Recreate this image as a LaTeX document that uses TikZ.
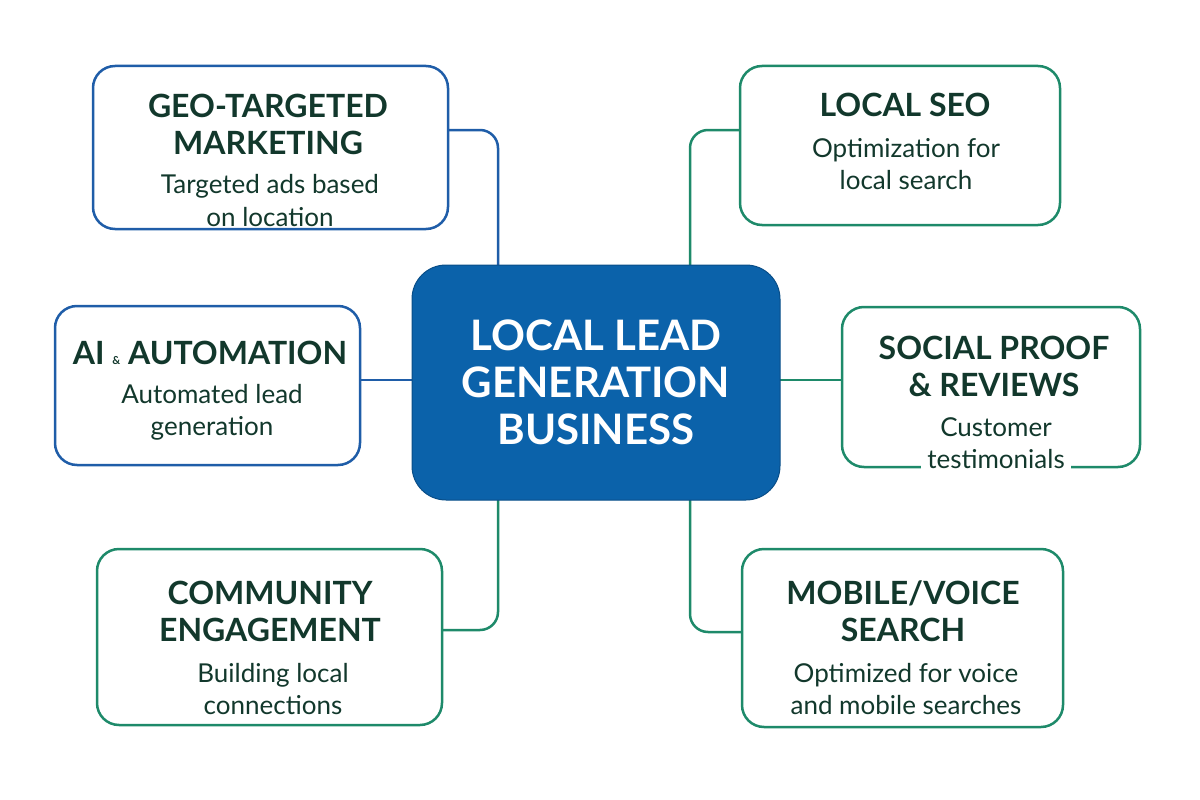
\documentclass[tikz,border=0pt]{standalone}
\usepackage{fontspec}
\setmainfont{Lato}
\definecolor{bblue}{HTML}{1F5DA8}
\definecolor{bgreen}{HTML}{1E8A6A}
\definecolor{cfill}{HTML}{0B62AA}
\definecolor{tdark}{HTML}{12382C}
\begin{document}
\begin{tikzpicture}[x=1pt,y=-1pt,
  box/.style={draw,line width=2.5pt,rounded corners=22pt,fill=white},
  ttl/.style={font=\fontsize{32}{37}\selectfont\bfseries,text=tdark,align=center},
  sub/.style={font=\fontsize{26}{32}\selectfont,text=tdark,align=center},
  link/.style={line width=2.5pt,rounded corners=18pt}]
\useasboundingbox (0,0) rectangle (1200,800);
% connectors
\draw[link,bblue] (448,130) -- (498,130) -- (498,265);
\draw[link,bgreen] (740,130) -- (690,130) -- (690,265);
\draw[link,bblue] (360,380) -- (412,380);
\draw[link,bgreen] (780,380) -- (842,380);
\draw[link,bgreen] (498,500) -- (498,630) -- (442,630);
\draw[link,bgreen] (690,500) -- (690,632) -- (742,632);
% boxes
\node[box,draw=bblue,minimum width=355pt,minimum height=163pt] (geo) at (270.5,147.5) {};
\node[box,draw=bgreen,minimum width=320pt,minimum height=159pt] (seo) at (900,145.5) {};
\node[box,draw=bblue,minimum width=305pt,minimum height=159pt] (ai) at (207.5,385.5) {};
\node[box,draw=bgreen,minimum width=298pt,minimum height=160pt] (soc) at (991,387) {};
\node[box,draw=bgreen,minimum width=345pt,minimum height=176pt] (com) at (269.5,637) {};
\node[box,draw=bgreen,minimum width=321pt,minimum height=178pt] (mob) at (902.5,638) {};
\node[draw=cfill!80!black,line width=1pt,fill=cfill,rounded corners=34pt,minimum width=368pt,minimum height=235pt] (ctr) at (596,382.5) {};
% texts
\node[font=\fontsize{42}{47}\selectfont\bfseries,text=white,align=center] (ctrt) at (ctr) {LOCAL LEAD\\GENERATION\\BUSINESS};
\node[ttl] (geot) at (268,124) {GEO-TARGETED\\MARKETING};
\node[sub] at (270,186) {Targeted ads based};
\node[sub,fill=white,inner xsep=6pt,inner ysep=0pt] at (270,217) {on location};
\node[ttl] (seot) at (905,105) {LOCAL SEO};
\node[sub] at (906,164) {Optimization for\\local search};
\node[ttl] (ait) at (210,353) {AI {\fontsize{11}{11}\selectfont\&} AUTOMATION};
\node[sub] at (212,412) {Automated lead\\generation};
\node[ttl] (soct) at (994,366) {SOCIAL PROOF\\\& REVIEWS};
\node[sub] at (996,427) {Customer};
\node[sub,fill=white,inner xsep=6pt,inner ysep=0pt] at (996,459) {testimonials};
\node[ttl] (comt) at (270,611) {COMMUNITY\\ENGAGEMENT};
\node[sub] at (273,689) {Building local\\connections};
\node[ttl] (mobt) at (903,611) {MOBILE/VOICE\\SEARCH};
\node[sub] at (906,689) {Optimized for voice\\and mobile searches};
\end{tikzpicture}
\end{document}
